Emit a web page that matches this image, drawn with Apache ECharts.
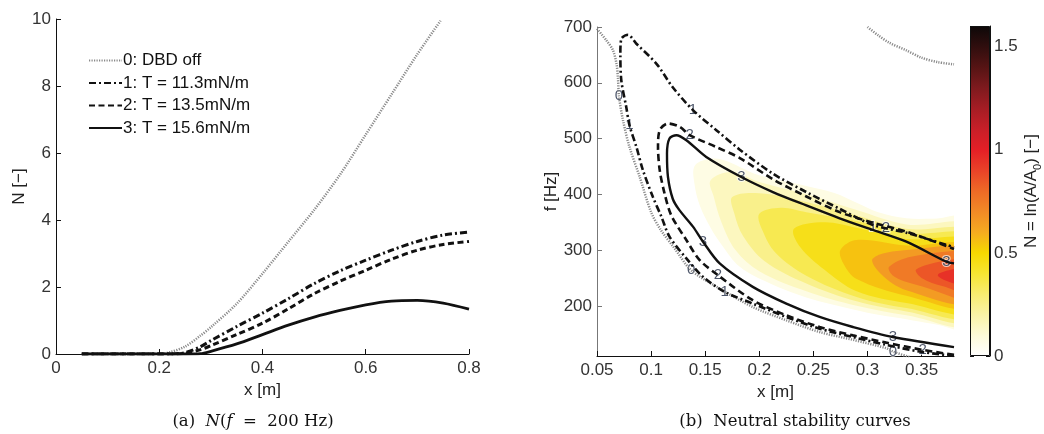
<!DOCTYPE html>
<html>
<head>
<meta charset="utf-8">
<script src="https://cdn.jsdelivr.net/npm/echarts@6/dist/echarts.min.js"></script>
<style>
  html, body { margin: 0; background: #fff; }
  #main { width: 1044px; height: 434px; }
</style>
</head>
<body>
<div id="main"></div>
<script>
// ---- (a) N(f = 200 Hz) along x ----
const xDbdOff = [0.05, 0.1, 0.15, 0.2, 0.22, 0.25, 0.28, 0.3, 0.35, 0.4, 0.45, 0.5, 0.55, 0.6, 0.65, 0.7, 0.745];
const nDbdOff = [0, 0, 0, 0, 0.05, 0.22, 0.55, 0.8, 1.5, 2.4, 3.35, 4.3, 5.35, 6.55, 7.75, 8.95, 9.95];
const xT = [0.05, 0.1, 0.15, 0.2, 0.22, 0.25, 0.28, 0.3, 0.35, 0.4, 0.45, 0.5, 0.55, 0.6, 0.65, 0.7, 0.75, 0.8];
const nT113 = [0, 0, 0, 0, 0, 0.04, 0.22, 0.4, 0.82, 1.22, 1.65, 2.1, 2.48, 2.8, 3.1, 3.36, 3.55, 3.64];
const nT135 = [0, 0, 0, 0, 0, 0.02, 0.13, 0.25, 0.58, 0.92, 1.35, 1.8, 2.17, 2.5, 2.83, 3.1, 3.27, 3.36];
const nT156 = [0, 0, 0, 0, 0, 0, 0.01, 0.08, 0.3, 0.58, 0.86, 1.1, 1.3, 1.47, 1.58, 1.6, 1.52, 1.34];
const legendNames = ['0: DBD off', '1: T = 11.3mN/m', '2: T = 13.5mN/m', '3: T = 15.6mN/m'];

// ---- (b) neutral stability curves, [x m, f Hz] ----
const contour0 = [[0.05, 697], [0.0587, 676], [0.0648, 658], [0.068, 634], [0.0694, 608], [0.0703, 576], [0.074, 533],
  [0.08, 485], [0.0895, 431], [0.1, 368], [0.109, 336], [0.121, 305], [0.137, 264], [0.1634, 231], [0.194, 198],
  [0.225, 174], [0.2558, 153], [0.2866, 139], [0.3174, 124], [0.3235, 118], [0.339, 108]];
const contour0Top = [[0.30, 700], [0.31, 685], [0.32, 672], [0.336, 658], [0.35, 645], [0.365, 637], [0.38, 633]];
const contour1 = [[0.38, 110], [0.348, 118], [0.3174, 130], [0.2866, 144], [0.2558, 159], [0.225, 180], [0.194, 204],
  [0.168, 225], [0.148, 252], [0.1326, 285], [0.117, 324], [0.1095, 360], [0.1017, 395], [0.0925, 443], [0.0864, 485],
  [0.08, 524], [0.077, 557], [0.0725, 604], [0.0716, 652], [0.0725, 679], [0.0787, 686], [0.0864, 670], [0.105, 634],
  [0.12, 592], [0.1387, 551], [0.1603, 515], [0.182, 480], [0.2126, 437], [0.2435, 404], [0.2743, 374], [0.305, 345],
  [0.336, 331], [0.38, 305]];
const contour2 = [[0.38, 112], [0.351, 121], [0.3174, 134], [0.2866, 147], [0.2558, 162], [0.225, 183], [0.194, 210],
  [0.1618, 255], [0.1449, 282], [0.1326, 318], [0.1187, 362], [0.1125, 401], [0.108, 443], [0.1064, 485], [0.108, 515],
  [0.1156, 527], [0.1265, 521], [0.1357, 506], [0.16, 485], [0.182, 465], [0.2126, 427], [0.2435, 396], [0.2743, 368],
  [0.305, 349], [0.336, 333], [0.38, 302]];
const contour3 = [[0.38, 126], [0.3235, 144], [0.2866, 162], [0.2558, 180], [0.225, 204], [0.194, 234], [0.1634, 276],
  [0.148, 315], [0.1387, 342], [0.126, 372], [0.12, 392], [0.1156, 431], [0.1147, 473], [0.117, 500], [0.1234, 506],
  [0.1326, 497], [0.151, 467], [0.1834, 431], [0.2126, 404], [0.2435, 380], [0.2743, 357], [0.305, 336], [0.336, 315],
  [0.373, 279], [0.38, 276]];
const contourLabels = [
  [0.0703, 576, '0'], [0.137, 264, '0'], [0.3235, 118, '0'],
  [0.080, 524, '1'], [0.1387, 551, '1'], [0.168, 225, '1'], [0.305, 342, '1'],
  [0.1357, 506, '2'], [0.1618, 255, '2'], [0.351, 121, '2'], [0.317, 339, '2'],
  [0.1834, 431, '3'], [0.148, 315, '3'], [0.3235, 144, '3'], [0.373, 279, '3']
];

// filled levels of N = ln(A/A0), each region where N >= level
const fillLevels = [0.02, 0.1, 0.2, 0.3, 0.4, 0.5, 0.6, 0.7, 0.8, 0.9];
const fillShapes = [
  [[0.140, 450], [0.15, 462], [0.166, 462], [0.2, 434], [0.2435, 415], [0.27, 402], [0.29, 385], [0.31, 368], [0.336, 357],
   [0.36, 356], [0.40, 356], [0.40, 160], [0.36, 168], [0.336, 176], [0.31, 184], [0.29, 192], [0.2435, 215], [0.21, 240],
   [0.182, 270], [0.165, 310], [0.155, 340], [0.145, 380], [0.14, 420]],
  [[0.155, 425], [0.175, 440], [0.2, 422], [0.2435, 400], [0.29, 372], [0.336, 346], [0.40, 340], [0.40, 168],
   [0.336, 183], [0.29, 200], [0.2435, 226], [0.2, 262], [0.178, 300], [0.165, 350], [0.158, 395]],
  [[0.175, 395], [0.2, 402], [0.2435, 386], [0.29, 362], [0.336, 338], [0.40, 330], [0.40, 175], [0.336, 190],
   [0.29, 208], [0.2435, 240], [0.205, 280], [0.185, 325], [0.177, 365]],
  [[0.2, 365], [0.22, 376], [0.2435, 368], [0.29, 352], [0.336, 330], [0.40, 322], [0.40, 182], [0.336, 196],
   [0.29, 216], [0.2435, 254], [0.215, 295], [0.203, 335]],
  [[0.232, 338], [0.26, 350], [0.29, 340], [0.336, 320], [0.40, 314], [0.40, 190], [0.336, 205], [0.29, 226],
   [0.26, 265], [0.238, 305]],
  [[0.275, 300], [0.29, 318], [0.336, 308], [0.40, 305], [0.40, 198], [0.336, 218], [0.29, 248], [0.278, 275]],
  [[0.305, 285], [0.336, 300], [0.40, 298], [0.40, 205], [0.336, 228], [0.312, 258]],
  [[0.32, 270], [0.345, 290], [0.40, 290], [0.40, 212], [0.35, 235], [0.325, 252]],
  [[0.345, 265], [0.37, 280], [0.40, 282], [0.40, 222], [0.37, 235], [0.35, 250]],
  [[0.365, 255], [0.38, 266], [0.40, 270], [0.40, 232], [0.38, 240]]
];

// colour map from N = 0 to 1.6 in steps of 0.1
const colorMap = ['#ffffff', '#fdfad8', '#faf3a6', '#f8ec70', '#f6e532', '#f6d800', '#f5ab20', '#f18a26', '#ee6a26',
  '#ea4228', '#e41f26', '#c81f28', '#a51d24', '#7e1a1e', '#561414', '#300e0e', '#0d0808'];
const cbarMax = 1.6;

function hex(c) { return [1, 3, 5].map(i => parseInt(c.substr(i, 2), 16)); }
function cmap(v) {
  const t = Math.max(0, Math.min(colorMap.length - 1, v / 0.1));
  const i = Math.min(colorMap.length - 2, Math.floor(t));
  const f = t - i, a = hex(colorMap[i]), b = hex(colorMap[i + 1]);
  return 'rgb(' + a.map((c, k) => Math.round(c + (b[k] - c) * f)).join(',') + ')';
}

const font = 'Liberation Sans, Arial, sans-serif';
const serif = 'DejaVu Serif, serif';
const lbl = { color: '#333', fontSize: 17, fontFamily: font };
const axName = { color: '#222', fontSize: 17, fontFamily: font };
const zip = (xs, ys) => xs.map((x, i) => [x, ys[i]]);

const chart = echarts.init(document.getElementById('main'), null, { renderer: 'canvas' });

chart.setOption({
  animation: false,
  backgroundColor: '#fff',
  textStyle: { fontFamily: font },
  legend: {
    data: legendNames,
    orient: 'vertical',
    left: 88, top: 52, padding: 0,
    itemWidth: 33, itemHeight: 14, itemGap: 5.5,
    itemStyle: { opacity: 0 },
    textStyle: { fontSize: 17, color: '#111', fontFamily: font, padding: [0, 0, 0, -4] }
  },
  grid: [
    { left: 56, right: 575, top: 19, bottom: 80 },
    { left: 597, right: 90, top: 27, bottom: 78 },
    { left: 970, right: 52, top: 26, bottom: 78 }
  ],
  xAxis: [
    {
      gridIndex: 0, type: 'value', min: 0, max: 0.8, interval: 0.2,
      name: 'x [m]', nameLocation: 'middle', nameGap: 23, nameTextStyle: axName,
      axisLine: { lineStyle: { color: '#111' } },
      axisTick: { inside: true, length: 5, lineStyle: { color: '#111' } },
      axisLabel: Object.assign({ margin: 6 }, lbl), splitLine: { show: false }
    },
    {
      gridIndex: 1, type: 'value', min: 0.05, max: 0.38, interval: 0.05,
      name: 'x [m]', nameLocation: 'middle', nameGap: 22, nameTextStyle: axName,
      axisLine: { lineStyle: { color: '#111' } },
      axisTick: { inside: true, length: 5, lineStyle: { color: '#111' } },
      axisLabel: Object.assign({ margin: 6, showMaxLabel: false }, lbl), splitLine: { show: false }
    },
    {
      gridIndex: 2, type: 'category', data: [''], show: false
    }
  ],
  yAxis: [
    {
      gridIndex: 0, type: 'value', min: 0, max: 10, interval: 2,
      name: 'N [−]', nameLocation: 'middle', nameGap: 28, nameTextStyle: axName,
      axisLine: { show: true, lineStyle: { color: '#111' } },
      axisTick: { show: true, inside: true, length: 5, lineStyle: { color: '#111' } },
      axisLabel: Object.assign({ margin: 5 }, lbl), splitLine: { show: false }
    },
    {
      gridIndex: 1, type: 'value', min: 110, max: 700, splitNumber: 6,
      name: 'f [Hz]', nameLocation: 'middle', nameGap: 34, nameTextStyle: axName,
      axisLine: { show: true, lineStyle: { color: '#777' } },
      axisTick: { show: true, inside: true, length: 5, lineStyle: { color: '#777' } },
      axisLabel: Object.assign({ margin: 5, showMinLabel: false }, lbl), splitLine: { show: false }
    },
    {
      gridIndex: 2, type: 'value', min: 0, max: cbarMax, interval: 0.5, position: 'right',
      name: 'N = ln(A/A{s|0}) [−]', nameLocation: 'middle', nameGap: 30,
      nameTextStyle: Object.assign({ rich: { s: { fontSize: 11, fontFamily: font, color: '#222', padding: [12, 0, 0, 0] } } }, axName),
      axisLine: { show: true, lineStyle: { color: '#111' } },
      axisTick: { show: true, inside: true, length: 4, lineStyle: { color: '#111' } },
      axisLabel: Object.assign({ margin: 4, showMaxLabel: false }, lbl), splitLine: { show: false }
    },
    {
      gridIndex: 2, type: 'value', min: 0, max: cbarMax, interval: 0.5, position: 'left',
      axisLine: { show: false }, axisLabel: { show: false },
      axisTick: { show: true, inside: true, length: 4, lineStyle: { color: '#111' } }, splitLine: { show: false }
    }
  ],
  graphic: [
    {
      type: 'text', x: 253, y: 422,
      style: {
        text: '(a)  {i|N}({i|f}  =  200 Hz)', align: 'center', verticalAlign: 'middle',
        fontSize: 16.5, fontFamily: serif, fill: '#111',
        rich: { i: { fontStyle: 'italic', fontSize: 16.5, fontFamily: serif, fill: '#111' } }
      }
    },
    {
      type: 'text', x: 795, y: 422,
      style: {
        text: '(b)  Neutral stability curves', align: 'center', verticalAlign: 'middle',
        fontSize: 16.5, fontFamily: serif, fill: '#111'
      }
    }
  ],
  series: [
    {
      name: legendNames[0], type: 'line', xAxisIndex: 0, yAxisIndex: 0, data: zip(xDbdOff, nDbdOff),
      smooth: 0.3, symbol: 'none', lineStyle: { color: '#8a8a8a', width: 2.5, type: [1.2, 1.3] },
      itemStyle: { color: '#8a8a8a' }
    },
    {
      name: legendNames[1], type: 'line', xAxisIndex: 0, yAxisIndex: 0, data: zip(xT, nT113),
      smooth: 0.3, symbol: 'none', lineStyle: { color: '#111', width: 3, type: [7, 3, 2, 3] },
      itemStyle: { color: '#111' }
    },
    {
      name: legendNames[2], type: 'line', xAxisIndex: 0, yAxisIndex: 0, data: zip(xT, nT135),
      smooth: 0.3, symbol: 'none', lineStyle: { color: '#111', width: 3, type: [6, 3.5] },
      itemStyle: { color: '#111' }
    },
    {
      name: legendNames[3], type: 'line', xAxisIndex: 0, yAxisIndex: 0, data: zip(xT, nT156),
      smooth: 0.3, symbol: 'none', lineStyle: { color: '#111', width: 2.8 },
      itemStyle: { color: '#111' }
    },
    {
      name: 'fill', type: 'custom', xAxisIndex: 1, yAxisIndex: 1, clip: true, silent: true,
      data: fillLevels.map((lv, i) => [fillShapes[i][0][0], fillShapes[i][0][1], lv]),
      encode: { x: 0, y: 1 },
      renderItem: function (params, api) {
        const pts = fillShapes[params.dataIndex].map(p => api.coord(p));
        return {
          type: 'polygon',
          shape: { points: pts, smooth: 0.35 },
          style: { fill: cmap(api.value(2) + 0.05), stroke: null }
        };
      }
    },
    {
      name: 'c0', type: 'line', xAxisIndex: 1, yAxisIndex: 1, data: contour0, smooth: 0.3, symbol: 'none',
      lineStyle: { color: '#8a8a8a', width: 2.5, type: [1.2, 1.3] }
    },
    {
      name: 'c0top', type: 'line', xAxisIndex: 1, yAxisIndex: 1, data: contour0Top, smooth: 0.3, symbol: 'none',
      lineStyle: { color: '#8a8a8a', width: 2.5, type: [1.2, 1.3] }
    },
    {
      name: 'c1', type: 'line', xAxisIndex: 1, yAxisIndex: 1, data: contour1, smooth: 0.3, symbol: 'none',
      lineStyle: { color: '#111', width: 2.6, type: [7, 3, 2, 3] }
    },
    {
      name: 'c2', type: 'line', xAxisIndex: 1, yAxisIndex: 1, data: contour2, smooth: 0.3, symbol: 'none',
      lineStyle: { color: '#111', width: 2.6, type: [7, 4] }
    },
    {
      name: 'c3', type: 'line', xAxisIndex: 1, yAxisIndex: 1, data: contour3, smooth: 0.3, symbol: 'none',
      lineStyle: { color: '#111', width: 2.4 }
    },
    {
      name: 'labels', type: 'scatter', xAxisIndex: 1, yAxisIndex: 1, data: contourLabels, symbolSize: 1,
      itemStyle: { color: 'rgba(0,0,0,0)' }, silent: true,
      label: {
        show: true, position: 'inside', formatter: p => p.value[2],
        fontSize: 15, fontFamily: font, color: '#1f2a44', textBorderColor: 'rgba(255,255,255,0.85)', textBorderWidth: 2
      }
    },
    {
      name: 'colorbar', type: 'bar', xAxisIndex: 2, yAxisIndex: 2, data: [cbarMax], barWidth: '100%', silent: true,
      itemStyle: {
        borderColor: '#111', borderWidth: 1,
        color: new echarts.graphic.LinearGradient(0, 1, 0, 0,
          colorMap.map((c, i) => ({ offset: i / (colorMap.length - 1), color: c })))
      }
    }
  ]
});
</script>
</body>
</html>
